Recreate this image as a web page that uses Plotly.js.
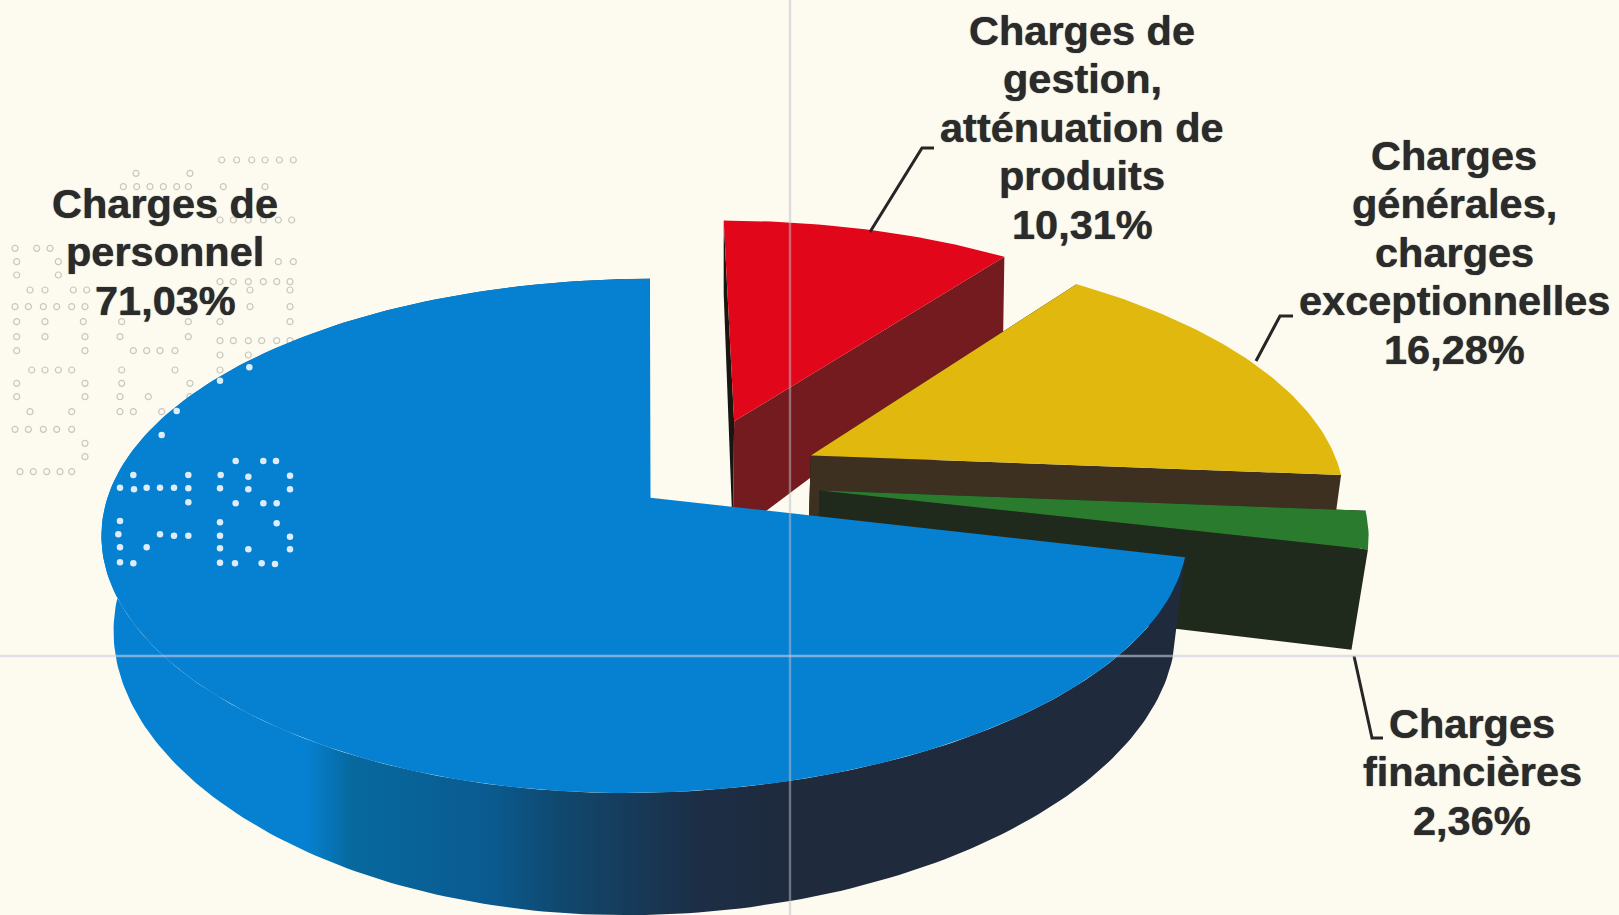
<!DOCTYPE html>
<html lang="fr">
<head>
<meta charset="utf-8">
<script src="https://cdn.plot.ly/plotly-3.0.1.min.js"></script>
<style>html,body{margin:0;padding:0;background:#fdfbf0;overflow:hidden}#chart{width:1619px;height:915px}</style>
</head>
<body>
<div id="chart"></div>
<script>
// ---- data, clockwise from the top of the pie ----
const categories = ["Charges de gestion, atténuation de produits", "Charges générales, charges exceptionnelles", "Charges financières", "Charges de personnel"];
const shares = [10.31, 16.28, 2.36, 71.03];
const labelLines = [
  ["Charges de", "gestion,", "atténuation de", "produits", "10,31%"],
  ["Charges", "générales,", "charges", "exceptionnelles", "16,28%"],
  ["Charges", "financières", "2,36%"],
  ["Charges de", "personnel", "71,03%"]
];

// ---- styling ----
const topColors  = ["#e2061a", "#e0b80e", "#2b7b2f", "#0681d2"];
const wallColors = ["#741b20", "#3d3021", "#1f2a1c", "#1f2a3c"];
const explodeX = [0.162, 0.306, 0.314, 0];
const explodeY = [0.318, 0.172, 0.029, 0];
const leanScale = [0.3, 0.7, 0.2, 1.4];
const apexExtraDrop = [25, 0, 0, 0];
const labelCx = [1082, 1454, 1472, 165];
const labelFirstY = [30, 155, 723, 203];
const lineStep = 48.5;
const leaderX = [[870, 922, 934], [1256, 1280, 1293], [1354, 1372, 1383]];
const leaderY = [[232, 148, 148], [361, 316, 316], [656, 738, 738]];

const ringRows = [
  [60,[665,710,755,795,838,880]],[100,[408,570]],[140,[370,410,450,490,530,565,670,795]],
  [240,[660,700,745,790,835,875]],[325,[45,110,150]],[365,[50,175,835,880]],[405,[50,175]],
  [425,[660,700,745,790,830,870]],[450,[90,135,220,260,490,750,870]],[500,[45,85,130,170,215,255,750,870]],
  [545,[50,135,250,365,565,660,870]],[590,[50,135,255,360,565]],[602,[660,700,745,785,830,870]],
  [632,[50,255,400,440,480,525]],[645,[660,745]],[690,[95,135,175,215,365,525,660]],
  [730,[50,255,365,570]],[770,[50,255,360,445,570]],[815,[90,215,360,400,485]],
  [868,[45,85,130,170,215]],[910,[255]],[950,[255]],[995,[60,100,140,180,215]]
];
const holeX = [400,565,360,402,440,480,522,565,565,360,355,480,522,565,360,440,360,400,707,790,828,662,745,870,660,745,870,707,790,830,660,830,660,870,660,745,870,660,705,785,825,485,530,660,748];
const holeY = [1005,1005,1043,1048,1043,1043,1043,1045,1087,1143,1183,1183,1187,1187,1222,1222,1267,1270,963,963,963,1005,1010,1007,1045,1048,1048,1090,1090,1090,1147,1150,1187,1190,1225,1228,1228,1268,1270,1270,1272,885,813,722,682];

// ---- perspective projection of a unit disc laid on a table ----
const CX = 650.5, CY = 497.7, RX = 543, RY = 251.4, P = 0.1486, H = 96;
function proj(gx, gy, i) {
  const w = 1 + P * gy;
  // the printed 3D pie leans slightly: right side trimmed, front swung to the left
  const lean = 0.015 * leanScale[i] * Math.max(0, gx) + 0.04 * gy * gy * (gy < 0 ? Math.min(1, Math.max(0, 1 + gx)) : 0);
  return { x: CX + RX * (gx - lean) / w, y: CY - RY * gy / w, w };
}
function lower(p, extra) {
  const s = 0.98 + 0.1 * (p.w - 1);
  return { x: CX + (p.x - CX) * s, y: p.y + H / Math.pow(p.w, 1.5) + (extra || 0) };
}
function arcPoints(i, a0, a1) {
  const pts = [], n = Math.max(8, Math.round(Math.abs(a1 - a0)));
  for (let k = 0; k <= n; k++) {
    let a = (a0 + (a1 - a0) * k / n) * Math.PI / 180;
    a -= 0.02 * Math.pow(Math.max(0, Math.sin(a)), 4);
    pts.push(proj(explodeX[i] + Math.sin(a), explodeY[i] + Math.cos(a), i));
  }
  return pts;
}
function polyTrace(name, pts, color, extra) {
  pts = pts.concat([pts[0]]);
  return Object.assign({
    type: "scatter", mode: "lines", name,
    x: pts.map(p => p.x), y: pts.map(p => p.y),
    fill: "toself", fillcolor: color, line: { width: 0, color }, hoverinfo: "skip", showlegend: false
  }, extra || {});
}

const traces = [];
// stamp rings on the paper, behind the pie
const rx = [], ry = [];
ringRows.forEach(r => r[1].forEach(x => { rx.push(x / 3); ry.push(r[0] / 3 + 140); }));
traces.push({ type: "scatter", mode: "markers", x: rx, y: ry, hoverinfo: "skip", showlegend: false,
  marker: { symbol: "circle-open", size: 6, color: "#c9c8be", line: { width: 1.2, color: "#c9c8be" } } });

let start = 0;
shares.forEach((v, i) => {
  const end = start + v * 3.6;
  const apex = proj(explodeX[i], explodeY[i], i);
  const rim = arcPoints(i, start, end);
  const first = rim[0], last = rim[rim.length - 1];
  if (i < 3) {
    // inner cut faces
    traces.push(polyTrace(categories[i] + " (coupe)", [apex, first, lower(first), lower(apex, apexExtraDrop[i])], "#191612"));
    traces.push(polyTrace(categories[i] + " (flanc)", [apex, last, lower(last), lower(apex, apexExtraDrop[i])], wallColors[i]));
  } else {
    // outer wall of the big slice
    traces.push(polyTrace(categories[i] + " (flanc)", rim.concat(rim.slice().reverse().map(p => lower(p))), wallColors[i], {
      fillgradient: { type: "horizontal", colorscale: [
        [0, "#0681d2"], [0.19, "#0680d0"], [0.23, "#07699f"], [0.36, "#0a5a90"], [0.42, "#10496f"],
        [0.55, "#1c2e46"], [0.64, "#1f2a3c"], [1, "#1f2a3c"]] }
    }));
  }
  traces.push(polyTrace(categories[i], [apex].concat(rim), topColors[i]));
  start = end;
});

// perforations showing white through the blue slice
traces.push({ type: "scatter", mode: "markers", x: holeX.map(x => x / 3), y: holeY.map(y => y / 3 + 140),
  hoverinfo: "skip", showlegend: false, marker: { symbol: "circle", size: 6.5, color: "#dcecf8" } });

// leader lines
leaderX.forEach((xs, i) => traces.push({ type: "scatter", mode: "lines", x: xs, y: leaderY[i], hoverinfo: "skip",
  showlegend: false, line: { color: "#262626", width: 3 } }));

const annotations = [];
labelLines.forEach((lines, i) => lines.forEach((t, k) => annotations.push({
  xref: "x", yref: "y", x: labelCx[i], y: labelFirstY[i] + k * lineStep, text: t, showarrow: false,
  xanchor: "center", yanchor: "middle",
  font: { family: "Liberation Sans, Arial, sans-serif", size: 41.5, color: "#2b2b2b", weight: 700, shadow: "0 0 1px #2b2b2b" }
})));

const layout = {
  width: 1619, height: 915, margin: { l: 0, r: 0, t: 0, b: 0 },
  paper_bgcolor: "#fdfbf0", plot_bgcolor: "#fdfbf0", showlegend: false,
  xaxis: { range: [0, 1619], visible: false, fixedrange: true },
  yaxis: { range: [915, 0], visible: false, fixedrange: true },
  annotations,
  shapes: [
    { type: "line", xref: "x", yref: "y", x0: 790, x1: 790, y0: 0, y1: 915, layer: "above",
      line: { color: "rgba(190,190,200,0.5)", width: 2.4 } },
    { type: "line", xref: "x", yref: "y", x0: 0, x1: 1619, y0: 656, y1: 656, layer: "above",
      line: { color: "rgba(205,205,225,0.6)", width: 2.6 } }
  ]
};
Plotly.newPlot("chart", traces, layout, { displayModeBar: false, staticPlot: true });
</script>
</body>
</html>
